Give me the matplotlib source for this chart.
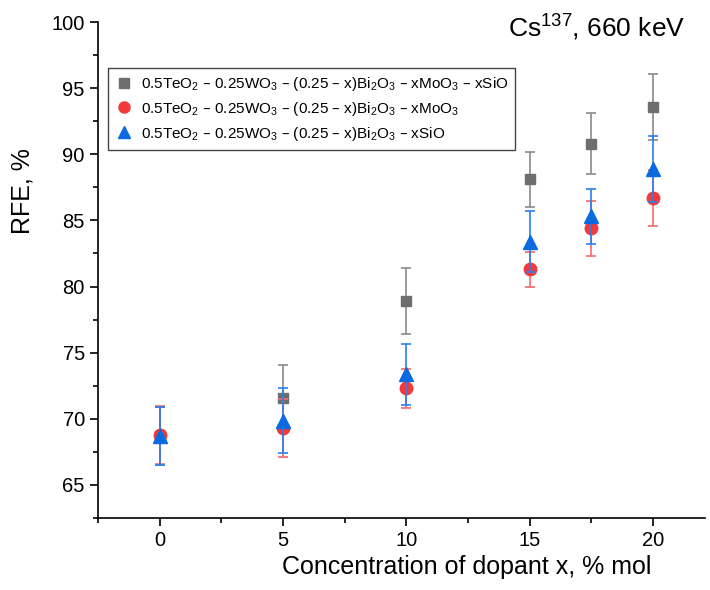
import matplotlib
matplotlib.use("Agg")
from matplotlib import pyplot as plt
from matplotlib.lines import Line2D
from matplotlib.ticker import MultipleLocator

plt.rcParams["font.family"] = ["Liberation Sans", "DejaVu Sans"]
plt.rcParams["mathtext.default"] = "regular"

# Concentration of dopant x, % mol
x = [0, 5, 10, 15, 17.5, 20]

# RFE values and errors for each glass series
rfe_moo3_sio = [68.7, 71.6, 78.9, 88.1, 90.8, 93.6]
err_moo3_sio = [2.2, 2.5, 2.5, 2.1, 2.3, 2.5]
rfe_moo3 = [68.8, 69.3, 72.3, 81.3, 84.4, 86.7]
err_moo3 = [2.2, 2.2, 1.5, 1.3, 2.1, 2.1]
rfe_sio = [68.7, 69.85, 73.35, 83.4, 85.3, 88.9]
err_sio = [2.2, 2.45, 2.3, 2.3, 2.1, 2.5]

labels = [
    r"0.5TeO$_2$ – 0.25WO$_3$ – (0.25 – x)Bi$_2$O$_3$ – xMoO$_3$ – xSiO",
    r"0.5TeO$_2$ – 0.25WO$_3$ – (0.25 – x)Bi$_2$O$_3$ – xMoO$_3$",
    r"0.5TeO$_2$ – 0.25WO$_3$ – (0.25 – x)Bi$_2$O$_3$ – xSiO",
]

GRAY = "#6e6e6e"
RED = "#f23a3a"
BLUE = "#0a6ae0"

fig = plt.figure(figsize=(7.10, 5.90), dpi=100)
ax = fig.add_axes([98 / 710, 72 / 590, 607 / 710, 496 / 590])

series = [
    (rfe_moo3_sio, err_moo3_sio, GRAY, "s", 7.5, "#8a8a8a"),
    (rfe_moo3, err_moo3, RED, "o", 9, "#f56a6a"),
    (rfe_sio, err_sio, BLUE, "^", 10, "#2a7ff0"),
]
handles = []
for (y, e, c, m, ms, ec), lab in zip(series, labels):
    ax.errorbar(x, y, yerr=e, fmt="none", ecolor=ec, elinewidth=1.2,
                capsize=3.5, capthick=1.2)
    ax.plot(x, y, ls="none", marker=m, ms=ms, color=c, mec=c)
    handles.append(Line2D([], [], ls="none", marker=m, ms=ms - 1, color=c,
                          mec=c, label=lab))

ax.set_xlim(-2.5, 22.1)
ax.set_ylim(62.5, 100)
ax.xaxis.set_major_locator(MultipleLocator(5))
ax.xaxis.set_minor_locator(MultipleLocator(2.5))
ax.yaxis.set_major_locator(MultipleLocator(5))
ax.yaxis.set_minor_locator(MultipleLocator(2.5))
ax.spines["top"].set_visible(False)
ax.spines["right"].set_visible(False)
for s in ("left", "bottom"):
    ax.spines[s].set_linewidth(1.2)
ax.tick_params(which="major", direction="out", length=6, width=1.2, labelsize=14.5)
ax.tick_params(which="minor", direction="out", length=3.5, width=1.2)

ax.set_xlabel("Concentration of dopant x, % mol", fontsize=18)
ax.xaxis.set_label_coords(0.608, -0.075)
ax.set_ylabel("RFE, %", fontsize=18)
ax.yaxis.set_label_coords(-0.105, 0.66)

fig.text(685 / 710, 1 - 28 / 590, r"Cs$^{137}$, 660 keV", fontsize=19,
         ha="right", va="center")

leg = ax.legend(handles=handles, loc="upper left",
                bbox_to_anchor=(108 / 710, 1 - 68 / 590),
                bbox_transform=fig.transFigure, fontsize=11,
                frameon=True, fancybox=False, framealpha=1,
                edgecolor="#444444", borderpad=0.45, handletextpad=0.5,
                labelspacing=0.45, handlelength=1.2, borderaxespad=0)
leg.get_frame().set_linewidth(1.0)

fig.savefig("out.png", dpi=100)
